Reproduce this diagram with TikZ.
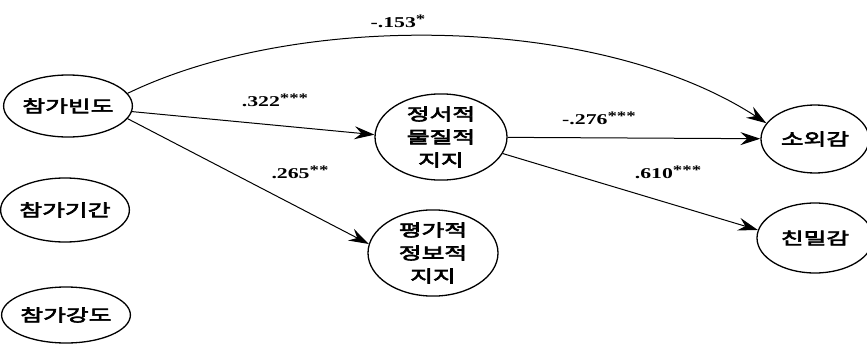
\documentclass[tikz,border=0pt]{standalone}
\usepackage{fontspec}
\setmainfont{Liberation Serif}
\newfontfamily\kr[FakeBold=4, FakeStretch=1.5]{Noto Sans CJK KR}
\newfontfamily\numf[UprightFont=* Bold, FakeStretch=1.45]{Liberation Serif}
\usetikzlibrary{arrows.meta,shapes.geometric}
\newcommand{\stars}[1]{\raisebox{4pt}{\fontsize{13}{13}\selectfont #1}}
\tikzset{
  var/.style={draw, line width=1.3pt, ellipse, inner sep=0pt, align=center,
    font=\kr\fontsize{16.5}{23}\selectfont},
  path/.style={line width=1pt, -{Stealth[length=20pt,width=13pt,inset=7pt]}},
  coef/.style={font=\numf\fontsize{15}{16}\selectfont, inner sep=0pt}
}
\begin{document}
\begin{tikzpicture}[x=1pt,y=-1pt]
\useasboundingbox (0,0) rectangle (867,343);
\node[var, minimum width=128pt, minimum height=62pt] (A) at (68,106) {참가빈도};
\node[var, minimum width=120pt, minimum height=64pt] (B) at (65,210) {참가기간};
\node[var, minimum width=118pt, minimum height=56pt] (C) at (66,315) {참가강도};
\node[var, minimum width=132pt, minimum height=72pt] (D) at (441,137) {정서적\\물질적\\지지};
\node[var, minimum width=130pt, minimum height=73pt] (E) at (433,253) {평가적\\정보적\\지지};
\node[var, minimum width=108pt, minimum height=68pt] (F) at (815,139) {소외감};
\node[var, minimum width=116pt, minimum height=70pt] (G) at (815,238) {친밀감};

\draw[path] (A.12) .. controls (300,10) and (600,15) .. (F.162);
\draw[path] (A.355) -- (D.178);
\draw[path] (A.348) -- (E.172);
\draw[path] (D) -- (F);
\draw[path] (D.345) -- (G.172);

\node[coef] (l1) at (398,21) {-.153\stars{*}};
\node[coef] (l2) at (275,100) {.322\stars{***}};
\node[coef] (l3) at (300,172) {.265\stars{**}};
\node[coef] (l4) at (599,118) {-.276\stars{***}};
\node[coef] (l5) at (668,172) {.610\stars{***}};
\end{tikzpicture}
\end{document}
